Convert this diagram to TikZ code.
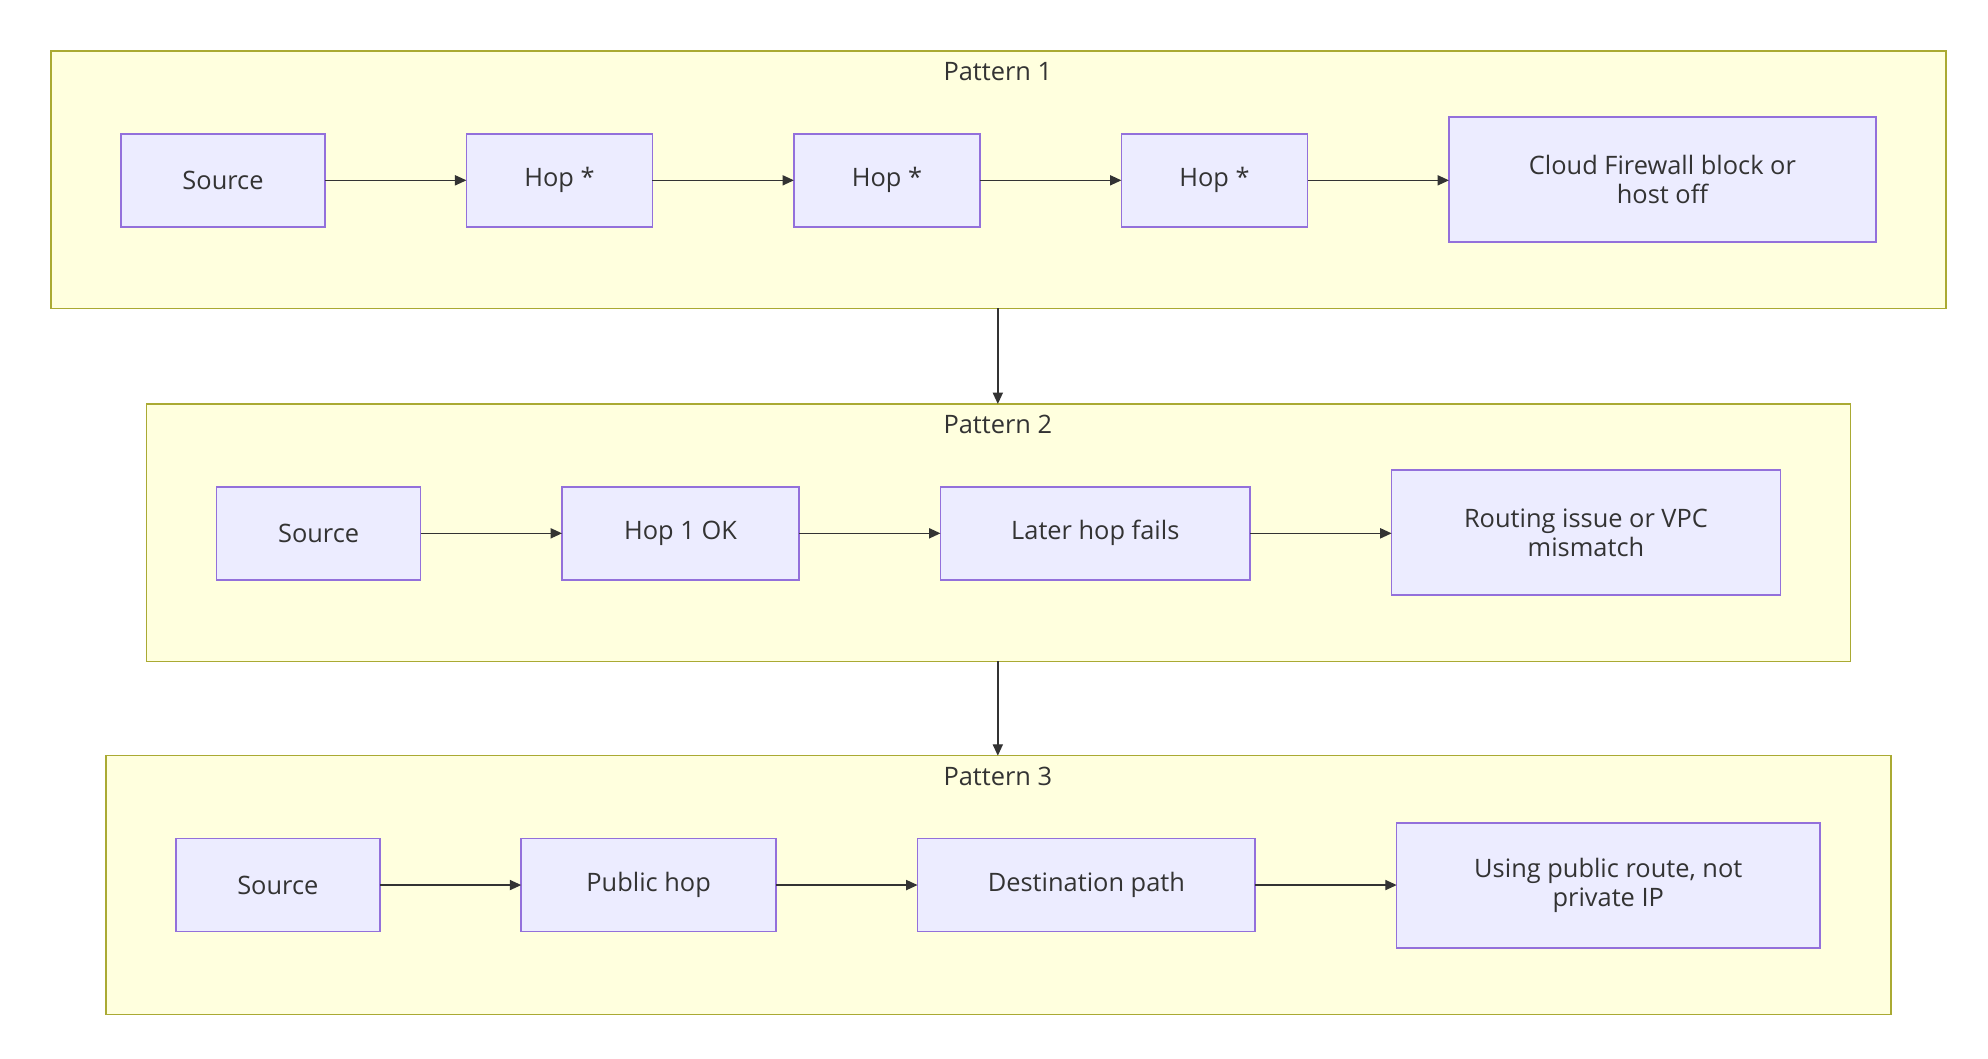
\documentclass[tikz,border=0pt]{standalone}
\usepackage{fontspec}
\setmainfont{Open Sans}
\usetikzlibrary{arrows.meta}
\definecolor{cfill}{HTML}{FFFFDE}
\definecolor{cdraw}{HTML}{AAAA33}
\definecolor{nfill}{HTML}{ECECFF}
\definecolor{ndraw}{HTML}{9370DB}
\definecolor{ink}{HTML}{333333}
\begin{document}
\begin{tikzpicture}[x=1bp,y=-1bp,
  clus/.style={draw=cdraw,fill=cfill,line width=1.2pt},
  nd/.style={draw=ndraw,fill=nfill,line width=1.2pt,font=\fontsize{20}{23}\selectfont,text=ink,align=center},
  ttl/.style={font=\fontsize{20}{23}\selectfont,text=ink},
  ar/.style={draw=ink,line width=1.1pt,-{Triangle[length=9pt,width=8pt]}}]
\useasboundingbox (0,0) rectangle (1560,831);
\fill[white] (0,0) rectangle (1560,831);
% clusters
\draw[clus] (40,40) rectangle (1527,242); \node[ttl] (t1) at (783,56) {Pattern 1};
\draw[clus] (115,317) rectangle (1452,519); \node[ttl] (t2) at (783,333) {Pattern 2};
\draw[clus] (83,593) rectangle (1484,796); \node[ttl] (t3) at (783,609) {Pattern 3};
\coordinate (c1b) at (783,242); \coordinate (c2t) at (783,317);
\coordinate (c2b) at (783,519); \coordinate (c3t) at (783,593);
\draw[ar] (c1b) -- (c2t);
\draw[ar] (c2b) -- (c3t);
\def\nbb#1#2#3#4#5#6#7{\path[nd] (#2,#3) rectangle (#4,#5); \node[nd,draw=none,fill=none,inner sep=0] (#1) at ({(#2+#4)/2},{(#3+#5)/2}) {#6};
  \coordinate (#1-w) at (#2,#7); \coordinate (#1-e) at (#4,#7);}
% row 1
\nbb{a1}{95}{105}{255}{178}{Source}{141.5}
\nbb{a2}{366}{105}{512}{178}{Hop *}{141.5}
\nbb{a3}{623}{105}{769}{178}{Hop *}{141.5}
\nbb{a4}{880}{105}{1026}{178}{Hop *}{141.5}
\nbb{a5}{1137}{92}{1472}{190}{Cloud Firewall block or\\host off}{141.5}
\draw[ar] (a1-e) -- (a2-w); \draw[ar] (a2-e) -- (a3-w); \draw[ar] (a3-e) -- (a4-w); \draw[ar] (a4-e) -- (a5-w);
% row 2
\nbb{b1}{170}{382}{330}{455}{Source}{418.5}
\nbb{b2}{441}{382}{627}{455}{Hop 1 OK}{418.5}
\nbb{b3}{738}{382}{981}{455}{Later hop fails}{418.5}
\nbb{b4}{1092}{369}{1397}{467}{Routing issue or VPC\\mismatch}{418.5}
\draw[ar] (b1-e) -- (b2-w); \draw[ar] (b2-e) -- (b3-w); \draw[ar] (b3-e) -- (b4-w);
% row 3
\nbb{c1}{138}{658}{298}{731}{Source}{694.5}
\nbb{c2}{409}{658}{609}{731}{Public hop}{694.5}
\nbb{c3}{720}{658}{985}{731}{Destination path}{694.5}
\nbb{c4}{1096}{646}{1428}{744}{Using public route, not\\private IP}{694.5}
\draw[ar] (c1-e) -- (c2-w); \draw[ar] (c2-e) -- (c3-w); \draw[ar] (c3-e) -- (c4-w);
\end{tikzpicture}
\end{document}
